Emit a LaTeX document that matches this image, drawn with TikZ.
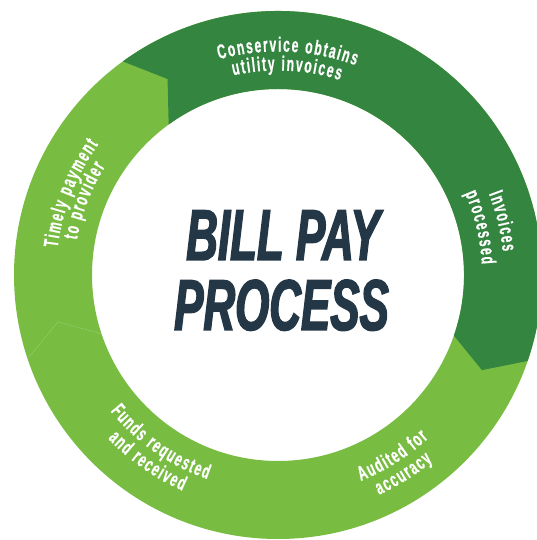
\documentclass[tikz,border=0pt]{standalone}
\usepackage{fontspec}
\setmainfont{Liberation Sans}
\newfontfamily\titlefont[FakeStretch=0.61,FakeBold=2]{Liberation Sans}
\newfontfamily\lblfont[FakeStretch=0.59,FakeBold=0.6]{Liberation Sans}
\newcommand{\lblstyle}{\lblfont\bfseries\fontsize{20.5}{22}\selectfont}
\usetikzlibrary{decorations.text}
\definecolor{darkg}{HTML}{338540}
\definecolor{lightg}{HTML}{78BC42}
\definecolor{navy}{HTML}{243746}
\definecolor{faintg}{HTML}{9ACD6E}
\tikzset{
  titletext/.style={font=\titlefont\bfseries\itshape\fontsize{72}{72}\selectfont, text=navy, anchor=base, inner sep=0pt},
  seamline/.style={faintg, line width=0.6pt, dash pattern=on 2pt off 1pt},
  ringtext/.style={decoration={text effects along path, text={#1}, text align=center,
     text effects/.cd, text along path,
     character widths={inner xsep=0.8pt, font=\lblstyle},
     characters={font=\lblstyle, text=white}}, decorate}
}
% clockwise label: angle, baseline radius, text
\newcommand{\cwlabel}[3]{%
 \path[ringtext={#3}]
   ([shift={(#1+40:#2pt)}]c) arc[start angle=#1+40, end angle=#1-40, radius=#2pt];}
% counter-clockwise label
\newcommand{\ccwlabel}[3]{%
 \path[ringtext={#3}]
   ([shift={(#1-40:#2pt)}]c) arc[start angle=#1-40, end angle=#1+40, radius=#2pt];}
\begin{document}
\begin{tikzpicture}
\useasboundingbox (0pt,0pt) rectangle (537pt,540pt);
\clip (0pt,0pt) rectangle (537pt,540pt);
\coordinate (c) at (278pt,265pt);
% ring
\fill[lightg, even odd rule] (c) circle[radius=264pt] (c) circle[radius=186pt];
% dark segment
\fill[darkg] ([shift={(126:264pt)}]c) arc[start angle=126, end angle=-19, radius=264pt]
  -- ([shift={(-25:225pt)}]c) -- ([shift={(-19:186pt)}]c)
  arc[start angle=-19, end angle=126, radius=186pt]
  -- ([shift={(119.4:225pt)}]c) -- cycle;
% faint seam
\draw[seamline] ([shift={(198.5:264pt)}]c) -- ([shift={(192:225pt)}]c) -- ([shift={(198.5:186pt)}]c);
% labels
\cwlabel{87.5}{223.5}{Conservice obtains}
\cwlabel{87.5}{204.5}{utility invoices}
\cwlabel{13.5}{226}{Invoices}
\cwlabel{13.3}{204}{processed}
\cwlabel{158.5}{222}{Timely payment}
\cwlabel{159}{204}{to provider}
\ccwlabel{235}{216}{Funds requested}
\ccwlabel{235}{236}{and received}
\ccwlabel{-57.7}{222}{Audited for}
\ccwlabel{-57.8}{242}{accuracy}
% title
\node[titletext] (t1) at (283pt,280pt) {BILL PAY};
\node[titletext] (t2) at (281.5pt,210pt) {PROCESS};
\end{tikzpicture}
\end{document}
